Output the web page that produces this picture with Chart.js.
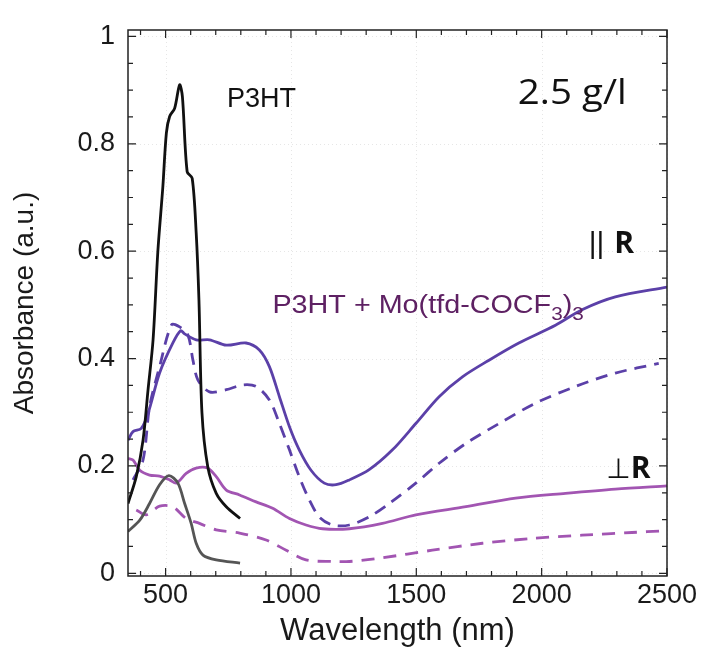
<!DOCTYPE html>
<html>
<head>
<meta charset="utf-8">
<script src="https://cdn.jsdelivr.net/npm/chart.js@4.4.1/dist/chart.umd.min.js"></script>
<style>
  html, body { margin: 0; padding: 0; background: #fff; }
  #wrap { width: 702px; height: 650px; }
</style>
</head>
<body>
<div id="wrap"><canvas id="absChart"></canvas></div>
<script>
// axis ticks
var xTicks = [500, 1000, 1500, 2000, 2500];
var yTicks = [0, 0.2, 0.4, 0.6, 0.8, 1];

// P3HT, parallel (black)
var p3htParX = [350, 383, 410, 430, 450, 469, 489, 503, 516, 536, 556, 567, 586, 606, 622, 633, 645, 668, 702, 742, 797];
var p3htParY = [0.130, 0.180, 0.248, 0.342, 0.435, 0.599, 0.720, 0.820, 0.851, 0.866, 0.910, 0.888, 0.748, 0.736, 0.634, 0.509, 0.299, 0.199, 0.149, 0.124, 0.102];

// P3HT, perpendicular (grey)
var p3htPerX = [350, 397, 436, 476, 513, 549, 576, 602, 622, 649, 702, 797];
var p3htPerY = [0.078, 0.099, 0.130, 0.165, 0.182, 0.168, 0.130, 0.093, 0.056, 0.034, 0.025, 0.019];

// P3HT + Mo(tfd-COCF3)3, parallel, solid
var dopParX = [350, 370, 403, 430, 476, 529, 560, 576, 622, 675, 742, 821, 874, 914, 954, 994, 1033, 1080, 1133, 1180, 1233, 1312, 1405, 1498, 1591, 1684, 1790, 1909, 2055, 2161, 2294, 2500];
var dopParY = [0.248, 0.264, 0.270, 0.298, 0.373, 0.429, 0.452, 0.446, 0.435, 0.435, 0.425, 0.429, 0.416, 0.385, 0.329, 0.273, 0.230, 0.192, 0.168, 0.165, 0.174, 0.193, 0.230, 0.279, 0.329, 0.366, 0.397, 0.429, 0.462, 0.491, 0.515, 0.533];

// P3HT + Mo(tfd-COCF3)3, parallel, dashed
var dopPar2X = [370, 410, 436, 476, 524, 556, 589, 609, 629, 675, 742, 808, 861, 914, 954, 994, 1033, 1073, 1113, 1166, 1233, 1312, 1392, 1498, 1591, 1698, 1830, 1976, 2135, 2294, 2467];
var dopPar2Y = [0.174, 0.211, 0.310, 0.385, 0.463, 0.459, 0.444, 0.397, 0.360, 0.338, 0.342, 0.351, 0.348, 0.323, 0.279, 0.230, 0.180, 0.137, 0.105, 0.090, 0.090, 0.105, 0.130, 0.168, 0.205, 0.242, 0.279, 0.317, 0.348, 0.373, 0.391];

// P3HT + Mo(tfd-COCF3)3, perpendicular, solid
var dopPerX = [350, 370, 397, 436, 476, 516, 543, 582, 622, 668, 702, 742, 795, 861, 927, 994, 1060, 1126, 1233, 1365, 1498, 1698, 1896, 2095, 2294, 2500];
var dopPerY = [0.214, 0.211, 0.192, 0.183, 0.181, 0.174, 0.168, 0.186, 0.196, 0.196, 0.180, 0.155, 0.146, 0.133, 0.121, 0.102, 0.090, 0.083, 0.083, 0.093, 0.109, 0.124, 0.140, 0.149, 0.157, 0.163];

// P3HT + Mo(tfd-COCF3)3, perpendicular, dashed
var dopPer2X = [383, 423, 476, 529, 582, 635, 702, 795, 901, 981, 1060, 1166, 1233, 1365, 1564, 1764, 1964, 2161, 2360, 2480];
var dopPer2Y = [0.118, 0.109, 0.125, 0.124, 0.102, 0.093, 0.081, 0.075, 0.062, 0.043, 0.025, 0.022, 0.022, 0.029, 0.043, 0.056, 0.065, 0.071, 0.076, 0.079];

var PURPLE = '#5b40a8';
var MAGENTA = '#a255b2';
var TEXTPURPLE = '#5e2163';
var SANS = '"Liberation Sans", Arial, sans-serif';

function pts(xs, ys) {
    var out = [];
    for (var i = 0; i < xs.length; i++) out.push({x: xs[i], y: ys[i]});
    return out;
}

function series(xs, ys, color, dash) {
    return {
        data: pts(xs, ys),
        borderColor: color,
        borderWidth: 2.8,
        borderDash: dash || [],
        pointRadius: 0,
        tension: 0.3,
        fill: false
    };
}

// frame, inward ticks and faint dotted grid
var framePlugin = {
    id: 'frame',
    beforeDatasetsDraw: function(chart) {
        var ctx = chart.ctx, a = chart.chartArea;
        var xs = chart.scales.x, ys = chart.scales.y;
        ctx.save();
        ctx.strokeStyle = '#e6e6e6';
        ctx.lineWidth = 1;
        ctx.setLineDash([1, 3]);
        xTicks.forEach(function(v) {
            var px = Math.round(xs.getPixelForValue(v)) + 0.5;
            ctx.beginPath(); ctx.moveTo(px, a.top); ctx.lineTo(px, a.bottom); ctx.stroke();
        });
        yTicks.forEach(function(v) {
            var py = Math.round(ys.getPixelForValue(v)) + 0.5;
            ctx.beginPath(); ctx.moveTo(a.left, py); ctx.lineTo(a.right, py); ctx.stroke();
        });
        ctx.restore();
    },
    afterDatasetsDraw: function(chart) {
        var ctx = chart.ctx, a = chart.chartArea;
        var xs = chart.scales.x, ys = chart.scales.y;
        ctx.save();
        ctx.strokeStyle = '#222';
        ctx.lineWidth = 1.5;
        ctx.strokeRect(a.left, a.top, a.right - a.left, a.bottom - a.top);
        ctx.lineWidth = 1.2;
        var v, px, py, len;
        for (v = 400; v <= 2500; v += 100) {
            px = xs.getPixelForValue(v);
            len = (v % 500 === 0) ? 8 : 5;
            ctx.beginPath();
            ctx.moveTo(px, a.bottom); ctx.lineTo(px, a.bottom - len);
            ctx.moveTo(px, a.top); ctx.lineTo(px, a.top + len);
            ctx.stroke();
        }
        for (var k = 0; k <= 20; k++) {
            v = k * 0.05;
            py = ys.getPixelForValue(v);
            len = (k % 4 === 0) ? 8 : 5;
            ctx.beginPath();
            ctx.moveTo(a.left, py); ctx.lineTo(a.left + len, py);
            ctx.moveTo(a.right, py); ctx.lineTo(a.right - len, py);
            ctx.stroke();
        }
        ctx.restore();
    }
};

// text labels in the plot
var labelPlugin = {
    id: 'labels',
    afterDraw: function(chart) {
        var ctx = chart.ctx;
        var xs = chart.scales.x, ys = chart.scales.y;
        function X(v) { return xs.getPixelForValue(v); }
        function Y(v) { return ys.getPixelForValue(v); }
        ctx.save();
        ctx.textBaseline = 'alphabetic';
        ctx.textAlign = 'left';

        ctx.fillStyle = '#111';
        ctx.font = '27px ' + SANS;
        ctx.fillText('P3HT', X(745), Y(0.868));

        ctx.font = '35px "Open Sans", Lato, sans-serif';
        ctx.save();
        ctx.translate(X(1905), Y(0.874));
        ctx.scale(1.1, 1);
        ctx.fillText('2.5 g/l', 0, 0);
        ctx.restore();

        ctx.font = '30px ' + SANS;
        ctx.fillText('||', X(2188), Y(0.597));
        ctx.font = 'bold 30px "Open Sans", sans-serif';
        ctx.fillText('R', X(2290), Y(0.597));

        ctx.font = '28px "DejaVu Sans", sans-serif';
        ctx.fillText('\u22A5', X(2258), Y(0.178));
        ctx.font = 'bold 30px "Open Sans", sans-serif';
        ctx.fillText('R', X(2355), Y(0.178));

        // P3HT + Mo(tfd-COCF3)3
        ctx.fillStyle = TEXTPURPLE;
        ctx.save();
        ctx.translate(X(926), Y(0.484));
        ctx.scale(1.15, 1);
        var x0 = 0;
        var big = '25px ' + SANS;
        var sub = '18px ' + SANS;
        var parts = [['P3HT + Mo(tfd-COCF', big, 0], ['3', sub, 7], [')', big, 0], ['3', sub, 7]];
        parts.forEach(function(p) {
            ctx.font = p[1];
            ctx.fillText(p[0], x0, p[2]);
            x0 += ctx.measureText(p[0]).width;
        });
        ctx.restore();
        ctx.restore();
    }
};

var ctx = document.getElementById('absChart');

new Chart(ctx, {
    type: 'line',
    data: {
        datasets: [
            series(p3htParX, p3htParY, '#111111'),
            series(p3htPerX, p3htPerY, '#555555'),
            series(dopParX, dopParY, PURPLE),
            series(dopPar2X, dopPar2Y, PURPLE, [12, 8]),
            series(dopPerX, dopPerY, MAGENTA),
            series(dopPer2X, dopPer2Y, MAGENTA, [13, 9])
        ]
    },
    options: {
        responsive: true,
        maintainAspectRatio: false,
        animation: false,
        parsing: false,
        layout: { padding: { left: 8, right: 35, top: 30, bottom: 0 } },
        plugins: {
            legend: { display: false },
            tooltip: { enabled: false }
        },
        scales: {
            x: {
                type: 'linear',
                min: 350,
                max: 2500,
                grid: { display: false, drawTicks: false },
                border: { display: false },
                afterBuildTicks: function(scale) {
                    scale.ticks = xTicks.map(function(v) { return {value: v}; });
                },
                afterFit: function(scale) { scale.height = 74; },
                ticks: {
                    padding: 3,
                    maxRotation: 0,
                    color: '#1a1a1a',
                    font: { family: SANS, size: 27 },
                    callback: function(v) { return String(v); }
                },
                title: {
                    display: true,
                    text: 'Wavelength (nm)',
                    color: '#1a1a1a',
                    padding: { top: 0, bottom: 0 },
                    font: { family: SANS, size: 31 }
                }
            },
            y: {
                type: 'linear',
                min: -0.005,
                max: 1.012,
                grid: { display: false, drawTicks: false },
                border: { display: false },
                afterBuildTicks: function(scale) {
                    scale.ticks = yTicks.map(function(v) { return {value: v}; });
                },
                afterFit: function(scale) { scale.width = 120; },
                ticks: {
                    padding: 13,
                    color: '#1a1a1a',
                    font: { family: SANS, size: 27 },
                    callback: function(v) { return String(Math.round(v * 10) / 10); }
                },
                title: {
                    display: true,
                    text: 'Absorbance (a.u.)',
                    color: '#1a1a1a',
                    padding: { top: 0, bottom: 0 },
                    font: { family: SANS, size: 28 }
                }
            }
        }
    },
    plugins: [framePlugin, labelPlugin]
});
</script>
</body>
</html>
